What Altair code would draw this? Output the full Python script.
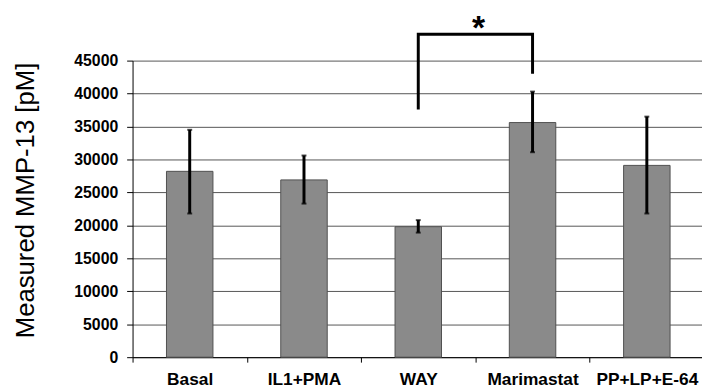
import altair as alt
import pandas as pd

categories = ["Basal", "IL1+PMA", "WAY", "Marimastat", "PP+LP+E-64"]
means = [28200, 26900, 19800, 35600, 29100]
upper = [34500, 30600, 20800, 40300, 36500]
lower = [21800, 23300, 18900, 31100, 21800]

bracket_x = ["WAY", "WAY", "Marimastat", "Marimastat"]
bracket_y = [37600, 49000, 49000, 43000]
bracket_order = [0, 1, 2, 3]
star_group = ["WAY"]
star_value = [48300]
star_text = ["*"]

y_ticks = [0, 5000, 10000, 15000, 20000, 25000, 30000, 35000, 40000, 45000]
y_title = "Measured MMP-13 [pM]"

df = pd.DataFrame({"group": categories, "mean": means, "upper": upper, "lower": lower})
df_br = pd.DataFrame({"group": bracket_x, "val": bracket_y, "ord": bracket_order})
df_star = pd.DataFrame({"group": star_group, "val": star_value, "txt": star_text})

FONT = "Liberation Sans"
xscale = alt.Scale(domain=categories, paddingInner=0, paddingOuter=0, range=[0, 578])
yscale = alt.Scale(domain=[0, 45000], nice=False)

x_axis = alt.Axis(title=None, labelAngle=0, tickBand="extent", tickSize=5,
                  labelPadding=9, labelFontSize=17.5, labelFont=FONT,
                  labelFontWeight="bold", labelColor="black", domainColor="black",
                  tickColor="black", grid=False, labelOverlap=False)
y_axis = alt.Axis(title=y_title, values=y_ticks, format="d", labelOverlap=False,
                  tickSize=6, labelPadding=9,
                  labelFontSize=16, labelFont=FONT, labelFontWeight="bold",
                  labelColor="black", domainColor="black", tickColor="black",
                  grid=True, gridColor="#555555", gridWidth=1,
                  titleFont=FONT, titleFontSize=26, titleFontWeight="normal",
                  titleColor="black", titleAngle=270, titleX=-108, titleY=141,
                  titleAlign="center", titleBaseline="middle")


def X(f):
    return alt.X(f, scale=xscale, sort=categories, axis=x_axis)


def Y(f):
    return alt.Y(f, scale=yscale, axis=y_axis, title=y_title)


bars = alt.Chart(df).mark_bar(size=47, color="#8a8a8a", stroke="#505050", strokeWidth=1).encode(
    x=X("group:N"), y=Y("mean:Q"))

err = alt.Chart(df).mark_rule(color="black", strokeWidth=3).encode(
    x=X("group:N"), y=Y("lower:Q"), y2="upper:Q")
cap_hi = alt.Chart(df).mark_tick(color="black", thickness=2, size=5).encode(
    x=X("group:N"), y=Y("upper:Q"))
cap_lo = alt.Chart(df).mark_tick(color="black", thickness=2, size=5).encode(
    x=X("group:N"), y=Y("lower:Q"))

bracket = alt.Chart(df_br).mark_line(color="black", strokeWidth=3, strokeJoin="miter", strokeCap="butt").encode(
    x=X("group:N"), y=Y("val:Q"), order="ord:Q")

star = alt.Chart(df_star).mark_text(font=FONT, fontSize=34, fontWeight="bold", color="black",
                                    dx=61, baseline="alphabetic", align="center").encode(
    x=X("group:N"), y=Y("val:Q"), text="txt:N")

chart = alt.layer(bars, err, cap_hi, cap_lo, bracket, star).properties(
    width=576, height=300,
    autosize=alt.AutoSizeParams(type="none"),
    padding={"left": 126, "top": 51, "right": 0, "bottom": 33},
).configure_view(stroke=None)

chart.save("out.html", embed_options={"renderer": "svg", "actions": False})
